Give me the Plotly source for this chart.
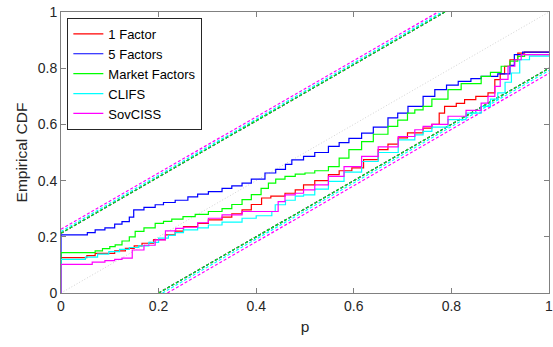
import plotly.graph_objects as go

# ---------------- data ----------------
series_names = ["1 Factor", "5 Factors", "Market Factors", "CLIFS", "SovCISS"]
series_colors = ["#ff0000", "#0000ff", "#00ff00", "#00ffff", "#ff00ff"]

red_x = [0, 0, 0.053, 0.07, 0.091, 0.11, 0.132, 0.15, 0.166, 0.19, 0.214, 0.234, 0.251, 0.28, 0.302,
         0.33, 0.35, 0.371, 0.39, 0.411, 0.43, 0.459, 0.48, 0.497, 0.52, 0.548, 0.57, 0.596, 0.62,
         0.65, 0.67, 0.691, 0.71, 0.742, 0.76, 0.775, 0.786, 0.81, 0.827, 0.85, 0.875, 0.889, 0.9,
         0.909, 0.92, 0.936, 0.95, 1.0]
red_y = [0, 0.126, 0.133, 0.141, 0.141, 0.15, 0.159, 0.168, 0.177, 0.19, 0.207, 0.22, 0.236, 0.248,
         0.26, 0.27, 0.282, 0.296, 0.315, 0.338, 0.345, 0.355, 0.367, 0.385, 0.4, 0.421, 0.435, 0.445,
         0.475, 0.51, 0.53, 0.552, 0.57, 0.587, 0.6, 0.64, 0.664, 0.675, 0.688, 0.7, 0.712, 0.759,
         0.78, 0.807, 0.83, 0.854, 0.857, 0.857]

blue_x = [0, 0, 0.054, 0.07, 0.09, 0.11, 0.125, 0.14, 0.149, 0.17, 0.193, 0.21, 0.234, 0.26, 0.28,
          0.302, 0.33, 0.35, 0.371, 0.39, 0.418, 0.44, 0.46, 0.473, 0.497, 0.52, 0.548, 0.57, 0.59,
          0.616, 0.64, 0.67, 0.69, 0.711, 0.742, 0.766, 0.79, 0.814, 0.84, 0.861, 0.895, 0.909,
          0.92, 0.929, 0.946, 1.0]
blue_y = [0, 0.207, 0.215, 0.225, 0.232, 0.245, 0.254, 0.27, 0.296, 0.305, 0.314, 0.322, 0.33, 0.342,
          0.352, 0.361, 0.372, 0.381, 0.391, 0.405, 0.427, 0.44, 0.458, 0.474, 0.486, 0.5, 0.522,
          0.535, 0.55, 0.569, 0.59, 0.623, 0.64, 0.664, 0.7, 0.724, 0.74, 0.753, 0.763, 0.771, 0.78,
          0.78, 0.81, 0.848, 0.857, 0.857]

green_x = [0, 0, 0.07, 0.085, 0.1, 0.111, 0.125, 0.14, 0.152, 0.17, 0.193, 0.21, 0.227, 0.25, 0.275,
           0.302, 0.33, 0.35, 0.371, 0.39, 0.41, 0.425, 0.44, 0.459, 0.48, 0.5, 0.52, 0.548, 0.57,
           0.59, 0.616, 0.64, 0.67, 0.69, 0.71, 0.725, 0.742, 0.76, 0.793, 0.82, 0.861, 0.88, 0.902,
           0.92, 0.936, 0.95, 1.0]
green_y = [0, 0.144, 0.15, 0.158, 0.165, 0.171, 0.185, 0.2, 0.219, 0.232, 0.248, 0.255, 0.263, 0.272,
           0.28, 0.29, 0.3, 0.315, 0.332, 0.35, 0.372, 0.391, 0.405, 0.415, 0.423, 0.427, 0.435,
           0.45, 0.48, 0.51, 0.539, 0.565, 0.593, 0.615, 0.64, 0.652, 0.664, 0.69, 0.724, 0.745,
           0.771, 0.785, 0.807, 0.825, 0.842, 0.848, 0.848]

cyan_x = [0, 0, 0.05, 0.075, 0.098, 0.12, 0.14, 0.159, 0.18, 0.2, 0.22, 0.234, 0.251, 0.28, 0.302,
          0.33, 0.371, 0.4, 0.432, 0.439, 0.46, 0.48, 0.497, 0.52, 0.548, 0.58, 0.616, 0.65, 0.691,
          0.725, 0.742, 0.76, 0.793, 0.83, 0.861, 0.88, 0.895, 0.91, 0.923, 0.94, 0.96, 1.0]
cyan_y = [0, 0.12, 0.128, 0.138, 0.147, 0.155, 0.162, 0.168, 0.18, 0.195, 0.205, 0.215, 0.225, 0.232,
          0.242, 0.252, 0.266, 0.275, 0.29, 0.314, 0.33, 0.345, 0.349, 0.37, 0.397, 0.43, 0.468,
          0.5, 0.545, 0.563, 0.575, 0.59, 0.617, 0.64, 0.664, 0.69, 0.712, 0.75, 0.783, 0.83, 0.843,
          0.843]

magenta_x = [0, 0, 0.064, 0.09, 0.11, 0.125, 0.146, 0.17, 0.193, 0.214, 0.235, 0.251, 0.28, 0.302,
             0.33, 0.371, 0.425, 0.445, 0.459, 0.48, 0.497, 0.52, 0.548, 0.58, 0.616, 0.65, 0.691,
             0.725, 0.742, 0.76, 0.793, 0.83, 0.861, 0.875, 0.889, 0.9, 0.916, 0.93, 0.943, 1.0]
magenta_y = [0, 0.102, 0.11, 0.115, 0.12, 0.124, 0.153, 0.17, 0.189, 0.221, 0.23, 0.234, 0.25, 0.266,
             0.278, 0.29, 0.29, 0.325, 0.349, 0.355, 0.367, 0.385, 0.415, 0.45, 0.486, 0.52, 0.557,
             0.581, 0.593, 0.6, 0.629, 0.65, 0.676, 0.7, 0.735, 0.76, 0.807, 0.83, 0.848, 0.848]

# confidence band offsets (upper, lower) per series
band_upper = [0.213, 0.213, 0.213, 0.219, 0.227]
band_lower = [0.2, 0.2, 0.2, 0.208, 0.218]

tick_vals = [0, 0.2, 0.4, 0.6, 0.8, 1]
tick_text = ["0", "0.2", "0.4", "0.6", "0.8", "1"]

# ---------------- figure ----------------
xs = [red_x, blue_x, green_x, cyan_x, magenta_x]
ys = [red_y, blue_y, green_y, cyan_y, magenta_y]

fig = go.Figure()

# bands first (dashed)
for i in range(5):
    du, dl = band_upper[i], band_lower[i]
    fig.add_trace(go.Scatter(x=[0, 1 - du], y=[du, 1], mode="lines",
                             line=dict(color=series_colors[i], width=1.2, dash="3px,2px"),
                             showlegend=False, hoverinfo="skip"))
    fig.add_trace(go.Scatter(x=[dl, 1], y=[0, 1 - dl], mode="lines",
                             line=dict(color=series_colors[i], width=1.2, dash="3px,2px"),
                             showlegend=False, hoverinfo="skip"))

# 45-degree reference line
fig.add_trace(go.Scatter(x=[0, 1], y=[0, 1], mode="lines",
                         line=dict(color="#b4b4b4", width=0.6, dash="1px,2px"),
                         showlegend=False, hoverinfo="skip"))

for i in range(5):
    fig.add_trace(go.Scatter(x=xs[i], y=ys[i], mode="lines", name=series_names[i],
                             line=dict(color=series_colors[i], width=1.2, shape="hv")))

axis_common = dict(range=[0, 1], tickvals=tick_vals, ticktext=tick_text,
                   showline=True, linecolor="#808080", linewidth=1, mirror="allticks",
                   ticks="inside", ticklen=5, tickcolor="#808080", showgrid=False,
                   zeroline=False, ticklabeloverflow="allow",
                   tickfont=dict(size=14, color="#262626"))

fig.update_layout(
    width=553, height=347,
    margin=dict(l=61, r=4, t=12, b=54, autoexpand=False),
    paper_bgcolor="white", plot_bgcolor="white",
    font=dict(family="Liberation Sans, Arial, sans-serif", color="#262626"),
    xaxis=dict(axis_common, title=dict(text="p", font=dict(size=15.5), standoff=8)),
    yaxis=dict(axis_common, title=dict(text="Empirical CDF", font=dict(size=15.5), standoff=6)),
    legend=dict(x=0.013, y=0.979, xanchor="left", yanchor="top",
                bgcolor="white", bordercolor="#262626", borderwidth=1,
                font=dict(size=13, color="#000000"), itemwidth=30,
                tracegroupgap=0),
    showlegend=True,
    hovermode=False,
)

# remove the default page margin so the figure sits at the window's top-left corner
fig.write_html("out.html", config={"displayModeBar": False},
               post_script="document.body.style.margin='0';document.body.style.overflow='hidden';")
